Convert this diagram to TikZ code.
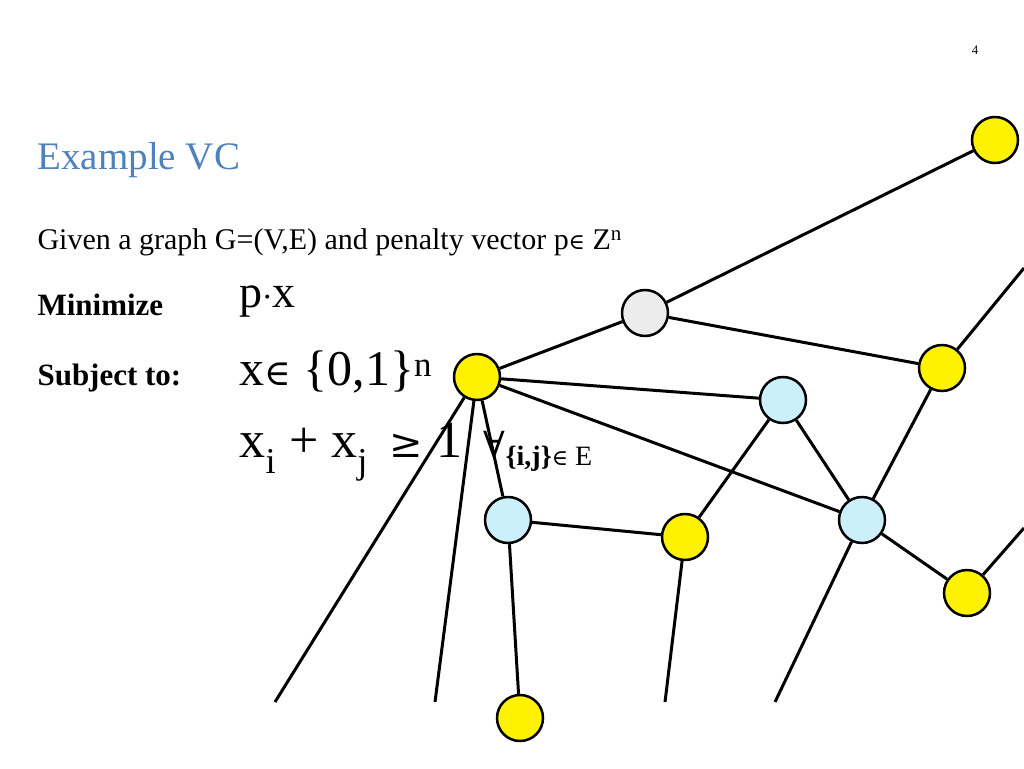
\documentclass[tikz,border=0pt]{standalone}
\usepackage{fontspec}
\setmainfont{Liberation Serif}
\newfontfamily\symf{DejaVu Serif}
\definecolor{ttl}{HTML}{4F81BD}
\begin{document}
\begin{tikzpicture}[x=1pt,y=-1pt,
  v/.style={circle,draw,line width=2.5pt,minimum size=46pt,inner sep=0pt},
  yel/.style={v,fill=yellow},
  cy/.style={v,fill=cyan!20},
  gr/.style={v,fill=gray!15},
  e/.style={line width=3pt}]
\useasboundingbox (0,0) rectangle (1024,768);
\node at (975,50) {\fontsize{13}{15}\selectfont 4};
\node[anchor=west,text=ttl] at (34,160) {\fontsize{39}{42}\selectfont Example VC};
\node[anchor=west] at (34,242) {\fontsize{30}{33}\selectfont Given a graph G=(V,E) and penalty vector p{\symf\fontsize{22}{24}\selectfont ∈} Z\textsuperscript{n}};
\node[anchor=west] at (34,305) {\fontsize{31}{33}\selectfont\bfseries Minimize};
\node[anchor=west] at (236,302) {\fontsize{46}{50}\selectfont p{\symf\fontsize{30}{30}\selectfont ·}x};
\node[anchor=west] at (236,372) {\fontsize{50}{54}\selectfont x{\symf\fontsize{36}{36}\selectfont ∈} \{0,1\}\textsuperscript{n}};
\node[anchor=west] at (34,378) {\fontsize{31}{33}\selectfont\bfseries Subject to:};
\node[anchor=west] at (236,452) {\fontsize{52}{56}\selectfont x\textsubscript{i} + x\textsubscript{j} \,{\symf\fontsize{40}{40}\selectfont ≥} 1 \,{\symf\fontsize{36}{36}\selectfont ∀}\fontsize{28}{30}\selectfont\raisebox{-8pt}{\textbf{\{i,j\}}{\symf\fontsize{22}{24}\selectfont ∈} E}};
\coordinate (f1) at (275,702);
\coordinate (f2) at (435,702);
\coordinate (f3) at (665,702);
\coordinate (f4) at (775,702);
\coordinate (f5) at (1024,268);
\coordinate (f6) at (1024,528);
\node[yel] (A) at (995,140) {};
\node[gr] (G) at (645,313) {};
\node[yel] (B) at (477,377) {};
\node[yel] (C) at (942,368) {};
\node[cy] (D) at (783,400) {};
\node[cy] (E) at (508,520) {};
\node[yel] (F) at (685,537) {};
\node[cy] (H) at (862,520) {};
\node[yel] (I) at (967,593) {};
\node[yel] (J) at (520,718) {};
\draw[e] (G)--(A) (G)--(B) (G)--(C) (B)--(D) (B)--(H) (B)--(f1) (B)--(f2) (B)--(E)
  (C)--(H) (C)--(f5) (D)--(F) (D)--(H) (E)--(F) (E)--(J) (F)--(f3) (H)--(f4) (H)--(I) (I)--(f6);
\end{tikzpicture}
\end{document}
